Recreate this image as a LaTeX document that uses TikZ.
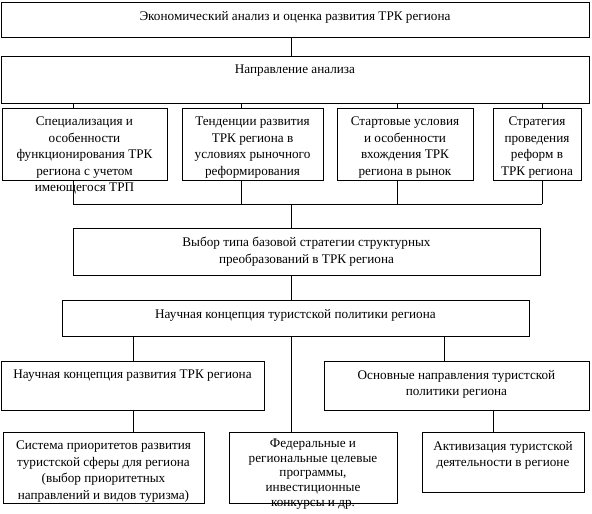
\documentclass[tikz,border=0pt]{standalone}
\usepackage{fontspec}
\setmainfont{Liberation Serif}
\begin{document}
\begin{tikzpicture}[x=1pt,y=-1pt,
  boxshape/.style={draw,line width=0.9pt,inner sep=0pt,rectangle},
  txt/.style={anchor=north,align=center,inner sep=0pt,font=\fontsize{13.2}{16.5}\selectfont},
  conn/.style={draw,line width=0.9pt}]
\useasboundingbox (0,0) rectangle (592,514);
\newcommand{\mybox}[7][yshift=-9.5pt]{%
  \node[boxshape,minimum width={#5-#3},minimum height={#6-#4}] (#2) at ({(#3+#5)/2},{(#4+#6)/2}) {};
  \node[txt,#1] (#2t) at (#2.north) {#7};}
\mybox{b1}{1}{2}{589}{37}{Экономический анализ и оценка развития ТРК региона}
\mybox{b2}{1}{56}{589}{103}{Направление анализа}
\mybox{b3a}{2}{108}{167}{180}{Специализация и\\особенности\\функционирования ТРК\\региона с учетом\\имеющегося ТРП}
\mybox{b3b}{182}{108}{323}{180}{Тенденции развития\\ТРК региона в\\условиях рыночного\\реформирования}
\mybox{b3c}{337}{108}{473}{180}{Стартовые условия\\и особенности\\вхождения ТРК\\региона в рынок}
\mybox{b3d}{493}{108}{581}{180}{Стратегия\\проведения\\реформ в\\ТРК региона}
\mybox{b4}{73}{228}{540}{275}{Выбор типа базовой стратегии структурных\\преобразований в ТРК региона}
\mybox{b5}{62}{300}{529}{336}{Научная концепция туристской политики региона}
\mybox{b6a}{1}{361}{264}{410}{Научная концепция развития ТРК региона}
\mybox{b6b}{324}{361}{589}{410}{Основные направления туристской\\политики региона}
\mybox{b7a}{3}{432}{204}{503}{Система приоритетов развития\\туристской сферы для региона\\(выбор приоритетных\\направлений и видов туризма)}
\mybox[yshift=-7pt,font=\fontsize{13.2}{14.8}\selectfont]{b7b}{229}{432}{397}{503}{Федеральные и\\региональные целевые\\программы,\\инвестиционные\\конкурсы и др.}
\mybox{b7c}{422}{432}{584}{492}{Активизация туристской\\деятельности в регионе}
\coordinate (xa) at (73,0);
\coordinate (xb) at (241,0);
\coordinate (xc) at (397,0);
\coordinate (xd) at (542,0);
\coordinate (xm) at (291,0);
\coordinate (xl) at (133,0);
\coordinate (xr) at (444,0);
\coordinate (xs) at (493,0);
\coordinate (hy) at (0,204);
\draw[conn] (xm |- b1.south) -- (xm |- b2.north);
\foreach \c/\b in {xa/b3a,xb/b3b,xc/b3c,xd/b3d}{
  \draw[conn] (\c |- b2.south) -- (\c |- \b.north);
  \draw[conn] (\c |- \b.south) -- (\c |- hy);}
\draw[conn] (xa |- hy) -- (xd |- hy);
\draw[conn] (xm |- hy) -- (xm |- b4.north);
\draw[conn] (xm |- b4.south) -- (xm |- b5.north);
\draw[conn] (xl |- b5.south) -- (xl |- b6a.north);
\draw[conn] (xr |- b5.south) -- (xr |- b6b.north);
\draw[conn] (xm |- b5.south) -- (xm |- b7b.north);
\draw[conn] (xl |- b6a.south) -- (xl |- b7a.north);
\draw[conn] (xs |- b6b.south) -- (xs |- b7c.north);
\end{tikzpicture}
\end{document}
